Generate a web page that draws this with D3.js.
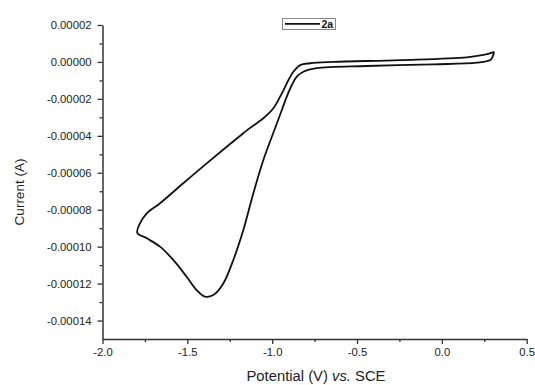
<!DOCTYPE html>
<html><head><meta charset="utf-8">
<script src="https://cdn.jsdelivr.net/npm/d3@7"></script>
<style>body{margin:0;background:#fff}svg{display:block}text{font-family:"Liberation Sans",Arial,sans-serif}</style>
</head><body><svg id="c" width="535" height="385"></svg>
<script>
// Cyclic voltammogram, series "2a"
const potential = [0.308, 0.300, 0.285, 0.206, -0.050, -0.442, -0.737, -0.816, -0.855, -0.884, -0.914, -0.943, -0.983, -1.052, -1.111, -1.170, -1.229, -1.288, -1.347, -1.396, -1.445, -1.504, -1.583, -1.661, -1.739, -1.795, -1.779, -1.739, -1.661, -1.524, -1.386, -1.268, -1.170, -1.130, -1.052, -0.993, -0.943, -0.904, -0.875, -0.835, -0.776, -0.639, -0.246, 0.147, 0.245, 0.308];
const current = [5.5e-6, 3.0e-6, 1.0e-6, -0.4e-6, -1.3e-6, -2.2e-6, -3.4e-6, -5.3e-6, -8.0e-6, -12.5e-6, -18.8e-6, -26.0e-6, -35.9e-6, -53.1e-6, -71.1e-6, -91.0e-6, -107.2e-6, -119.9e-6, -126.2e-6, -127.1e-6, -123.5e-6, -116.3e-6, -107.2e-6, -100.0e-6, -95.5e-6, -92.5e-6, -87.4e-6, -82.0e-6, -76.5e-6, -65.7e-6, -54.9e-6, -45.9e-6, -38.6e-6, -35.7e-6, -30.5e-6, -25.1e-6, -17.0e-6, -9.8e-6, -5.3e-6, -1.7e-6, -0.7e-6, 0.0, 1.0e-6, 2.5e-6, 3.8e-6, 5.5e-6];
const seriesName = "2a";
const xTicks = [-2.0, -1.5, -1.0, -0.5, 0.0, 0.5];
const xTickLabels = ["-2.0", "-1.5", "-1.0", "-0.5", "0.0", "0.5"];
const xMinorTicks = [-1.75, -1.25, -0.75, -0.25, 0.25];
const yTicks = [0.00002, 0.0, -0.00002, -0.00004, -0.00006, -0.00008, -0.00010, -0.00012, -0.00014];
const yTickLabels = ["0.00002", "0.00000", "-0.00002", "-0.00004", "-0.00006", "-0.00008", "-0.00010", "-0.00012", "-0.00014"];
const yMinorTicks = [0.00001, -0.00001, -0.00003, -0.00005, -0.00007, -0.00009, -0.00011, -0.00013];
const xDomain = [-2.0, 0.5];
const yDomain = [-0.00015, 0.00002];

const svg = d3.select("#c");
const x = d3.scaleLinear().domain(xDomain).range([102.5, 526.7]);
const y = d3.scaleLinear().domain(yDomain).range([339, 25]);
const axisColor = "#333";

// x axis
const gx = svg.append("g").attr("transform", `translate(0,${y(yDomain[0])})`)
  .call(d3.axisBottom(x).tickValues(xTicks).tickFormat((d, i) => xTickLabels[i]).tickSize(5).tickSizeOuter(0).tickPadding(4));
const gxm = svg.append("g").attr("transform", `translate(0,${y(yDomain[0])})`)
  .call(d3.axisBottom(x).tickValues(xMinorTicks).tickFormat("").tickSize(3).tickSizeOuter(0));
gxm.select(".domain").remove();
// y axis
const gy = svg.append("g").attr("transform", `translate(${x(xDomain[0])},0)`)
  .call(d3.axisLeft(y).tickValues(yTicks).tickFormat((d, i) => yTickLabels[i]).tickSize(5).tickSizeOuter(0).tickPadding(6));
const gym = svg.append("g").attr("transform", `translate(${x(xDomain[0])},0)`)
  .call(d3.axisLeft(y).tickValues(yMinorTicks).tickFormat("").tickSize(3).tickSizeOuter(0));
gym.select(".domain").remove();

[gx, gxm, gy, gym].forEach(g => {
  g.selectAll(".domain").attr("stroke", axisColor).attr("stroke-width", 1.5);
  g.selectAll(".tick line").attr("stroke", axisColor).attr("stroke-width", 1.3);
  g.selectAll(".tick text").attr("fill", "#222").attr("font-size", 11.3).attr("font-family", '"Liberation Sans",Arial,sans-serif');
});

// curve
const pts = potential.map((p, i) => [p, current[i]]);
svg.append("path").datum(pts)
  .attr("d", d3.line().x(d => x(d[0])).y(d => y(d[1])).curve(d3.curveCatmullRom.alpha(0.5)))
  .attr("fill", "none").attr("stroke", "#111").attr("stroke-width", 1.8).attr("stroke-linejoin", "round");

// axis titles
const xt = svg.append("text").attr("x", 316).attr("y", 381).attr("text-anchor", "middle")
  .attr("font-size", 14).attr("fill", "#222")
  .attr("textLength", 139).attr("lengthAdjust", "spacingAndGlyphs");
xt.append("tspan").text("Potential (V) ");
xt.append("tspan").attr("font-style", "italic").text("vs.");
xt.append("tspan").text(" SCE");

svg.append("text").attr("transform", "translate(24,192) rotate(-90)").attr("text-anchor", "middle")
  .attr("font-size", 13.5).attr("fill", "#222").text("Current (A)");

// legend
const lg = svg.append("g");
lg.append("rect").attr("x", 282.5).attr("y", 18.5).attr("width", 53).attr("height", 11)
  .attr("fill", "#fff").attr("stroke", "#888").attr("stroke-width", 1);
lg.append("line").attr("x1", 285).attr("x2", 320).attr("y1", 23.8).attr("y2", 23.8)
  .attr("stroke", "#111").attr("stroke-width", 1.8);
lg.append("text").attr("x", 321.5).attr("y", 28).attr("font-size", 10.5).attr("font-weight", "bold")
  .attr("fill", "#111").text(seriesName);
</script></body></html>
